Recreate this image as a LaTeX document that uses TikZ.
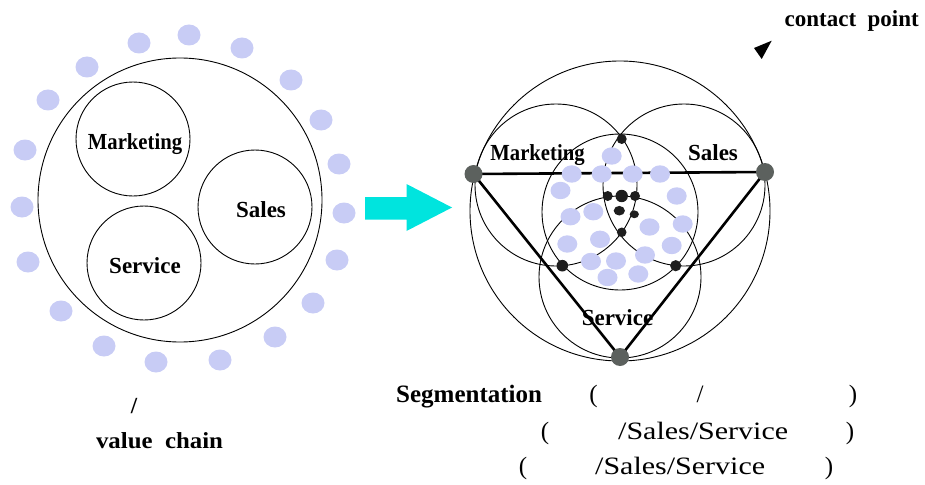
\documentclass[tikz,border=0pt]{standalone}
\usepackage{fontspec}
\setmainfont{Liberation Serif}
\usepackage{graphicx}
\definecolor{dotc}{RGB}{200,204,245}
\definecolor{arrc}{RGB}{0,228,222}
\definecolor{vtxc}{RGB}{92,97,94}
\definecolor{blk}{RGB}{30,30,30}
\begin{document}
\begin{tikzpicture}[x=1pt,y=-1pt,
  ring/.style={circle,draw=black,line width=0.9pt,inner sep=0pt,minimum size=#1},
  lbl/.style={font=\fontsize{23}{27}\selectfont\bfseries,inner sep=0pt,anchor=base},
  txt/.style={font=\fontsize{25}{30}\selectfont,inner sep=0pt,anchor=base},
  vtx/.style={circle,fill=vtxc,inner sep=0pt,minimum size=18pt},
  tri/.style={line width=2.6pt,line join=round},
  lite/.style={fill=dotc},
  hub/.style={fill=blk}]
\useasboundingbox (0,0) rectangle (925,484);

% ---- left: value chain ----
\foreach \p in {(139,43),(189,35),(242,48),(291,80),(321,120),(339,164),(344,213),(337,260),(313,303),(275,337),(220,360),(156,362),(104,346),(61,311),(28,262),(22,207),(25,150),(48,100),(87,67)}
  \fill[lite] \p ellipse[x radius=11.5,y radius=10.5];
\node[ring=284pt] (lc) at (180,200) {};
\node[ring=114pt] (lm) at (133,139) {};
\node[ring=114pt] (ls) at (255,207) {};
\node[ring=114pt] (lv) at (144,263) {};
\node[lbl] (lmt) at (135,149) {\scalebox{0.9}[1]{Marketing}};
\node[lbl] (lst) at (261,217) {Sales};
\node[lbl] (lvt) at (145,273) {Service};
\node[lbl] (slash) at (134,413) {/};
\node[lbl] (vc) at (159.5,448) {\scalebox{1.08}[1]{value\ \ chain}};

% ---- arrow ----
\fill[arrc] (365,197) -- (406.5,197) -- (406.5,184) -- (452,207.5) -- (406.5,231) -- (406.5,219.5) -- (365,219.5) -- cycle;

% ---- right: segmentation ----
\node[ring=300pt] (oc) at (620,211) {};
\node[ring=162pt] (rm) at (556,185) {};
\node[ring=162pt] (rs) at (684,185) {};
\node[ring=156pt] (mid) at (620,212) {};
\node[ring=162pt] (rv) at (620,277) {};
\coordinate (A) at (473.5,174);
\coordinate (B) at (765,172);
\coordinate (C) at (620,357);
\draw[tri] (A) -- (B) -- (C) -- cycle;
\node[vtx] (An) at (A) {};
\node[vtx] (Bn) at (B) {};
\node[vtx] (Cn) at (C) {};
\foreach \p in {(611.7,156),(571.7,174),(601.7,174),(632.7,174),(660,174),(560.5,190.5),(676.7,196),(570.5,216.7),(593.3,211.7),(649.5,227),(682.7,224),(567.3,244),(600,239.3),(671.7,245.5),(591,261.5),(616,261),(645,255),(607.5,277.5),(638.3,274)}
  \fill[lite] \p ellipse[x radius=10,y radius=8.7];
\fill[hub] (621.7,139) circle[radius=5];
\fill[hub] (607.7,196) circle[radius=5];
\fill[hub] (621.7,196) circle[radius=6.2];
\fill[hub] (635,196) circle[radius=5];
\fill[hub] (619.3,210.7) ellipse[x radius=5.6,y radius=4.8];
\fill[hub] (634.3,214.3) ellipse[x radius=4.6,y radius=3.9];
\fill[hub] (621.7,232.3) circle[radius=4.8];
\fill[hub] (562.3,265.7) circle[radius=5.8];
\fill[hub] (675.7,265.7) circle[radius=5.6];
\node[lbl] (rmt) at (537.5,160.7) {\scalebox{0.9}[1]{Marketing}};
\node[lbl] (rst) at (713,160.7) {Sales};
\node[lbl] (rvt) at (617.5,325) {Service};

% ---- contact point ----
\node[lbl] (cp) at (851.7,27) {contact\ \ point};
\fill (754,48) -- (771.7,40.7) -- (761.7,59) -- cycle;

% ---- bottom text ----
\node[lbl,font=\fontsize{25}{30}\selectfont\bfseries,anchor=base west] (seg) at (396,402) {Segmentation};
\node[txt] (p1) at (593.5,402) {(};
\node[txt] (s1) at (700,402) {/};
\node[txt] (q1) at (853,402) {)};
\node[txt] (p2) at (545,439) {(};
\node[txt,anchor=base west] (t2) at (618,439) {\scalebox{1.2}[1]{/Sales/Service}};
\node[txt] (q2) at (850,439) {)};
\node[txt] (p3) at (523,474) {(};
\node[txt,anchor=base west] (t3) at (595,474) {\scalebox{1.2}[1]{/Sales/Service}};
\node[txt] (q3) at (829,474) {)};
\end{tikzpicture}
\end{document}
